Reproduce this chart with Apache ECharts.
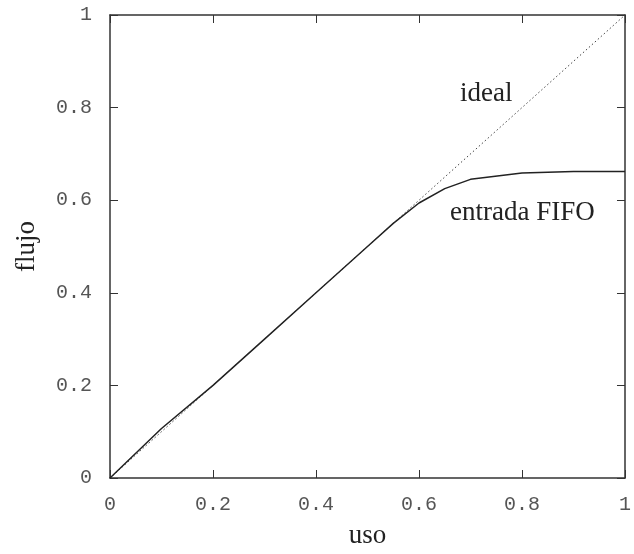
<!DOCTYPE html>
<html><head><meta charset="utf-8">
<script src="https://cdn.jsdelivr.net/npm/echarts@6/dist/echarts.min.js"></script>
<style>html,body{margin:0;padding:0;background:#fff}#c{width:634px;height:554px}</style>
</head><body><div id="c"></div>
<script>
const xTicks = [0, 0.2, 0.4, 0.6, 0.8, 1];
const yTicks = [0, 0.2, 0.4, 0.6, 0.8, 1];
const idealX = [0, 1];
const idealY = [0, 1];
const fifoX = [0, 0.1, 0.2, 0.3, 0.4, 0.5, 0.55, 0.6, 0.65, 0.7, 0.8, 0.9, 1];
const fifoY = [0, 0.107, 0.2, 0.3, 0.4, 0.5, 0.55, 0.594, 0.625, 0.645, 0.659, 0.662, 0.662];

const chart = echarts.init(document.getElementById('c'));
const tickFont = {fontFamily: 'Liberation Mono', fontSize: 20, color: '#555'};
const lineC = '#333';
const frameAxis = (extra) => Object.assign({
  type: 'value', min: 0, max: 1, interval: 0.2,
  axisLine: {show: true, onZero: false, lineStyle: {color: lineC, width: 1.5}},
  axisTick: {show: true, inside: true, length: 8, lineStyle: {color: lineC}},
  splitLine: {show: false}
}, extra);
chart.setOption({
  animation: false,
  grid: {left: 110, top: 15, width: 523, height: 470},
  xAxis: [frameAxis({
    name: 'uso', nameLocation: 'middle', nameGap: 44,
    nameTextStyle: {fontFamily: 'Liberation Serif', fontSize: 27, color: '#222'},
    axisLabel: Object.assign({margin: 17, formatter: v => String(v)}, tickFont)
  }), frameAxis({position: 'top', axisLabel: {show: false}})],
  yAxis: [frameAxis({
    name: 'flujo', nameLocation: 'middle', nameGap: 70, nameRotate: 90,
    nameTextStyle: {fontFamily: 'Liberation Serif', fontSize: 27, color: '#222'},
    axisLabel: Object.assign({margin: 18, formatter: v => String(v)}, tickFont)
  }), frameAxis({position: 'right', axisLabel: {show: false}})],
  series: [{
    type: 'line', symbol: 'none',
    data: idealX.map((x, i) => [x, idealY[i]]),
    lineStyle: {color: '#444', width: 1, type: [1.5, 2.5]}
  }, {
    type: 'line', symbol: 'none',
    data: fifoX.map((x, i) => [x, fifoY[i]]),
    lineStyle: {color: '#222', width: 1.5}
  }],
  graphic: [
    {type: 'text', left: 460, top: 80, style: {text: 'ideal', font: '27px "Liberation Serif"', fill: '#222'}},
    {type: 'text', left: 450, top: 199, style: {text: 'entrada FIFO', font: '27px "Liberation Serif"', fill: '#222'}}
  ]
});
</script></body></html>
